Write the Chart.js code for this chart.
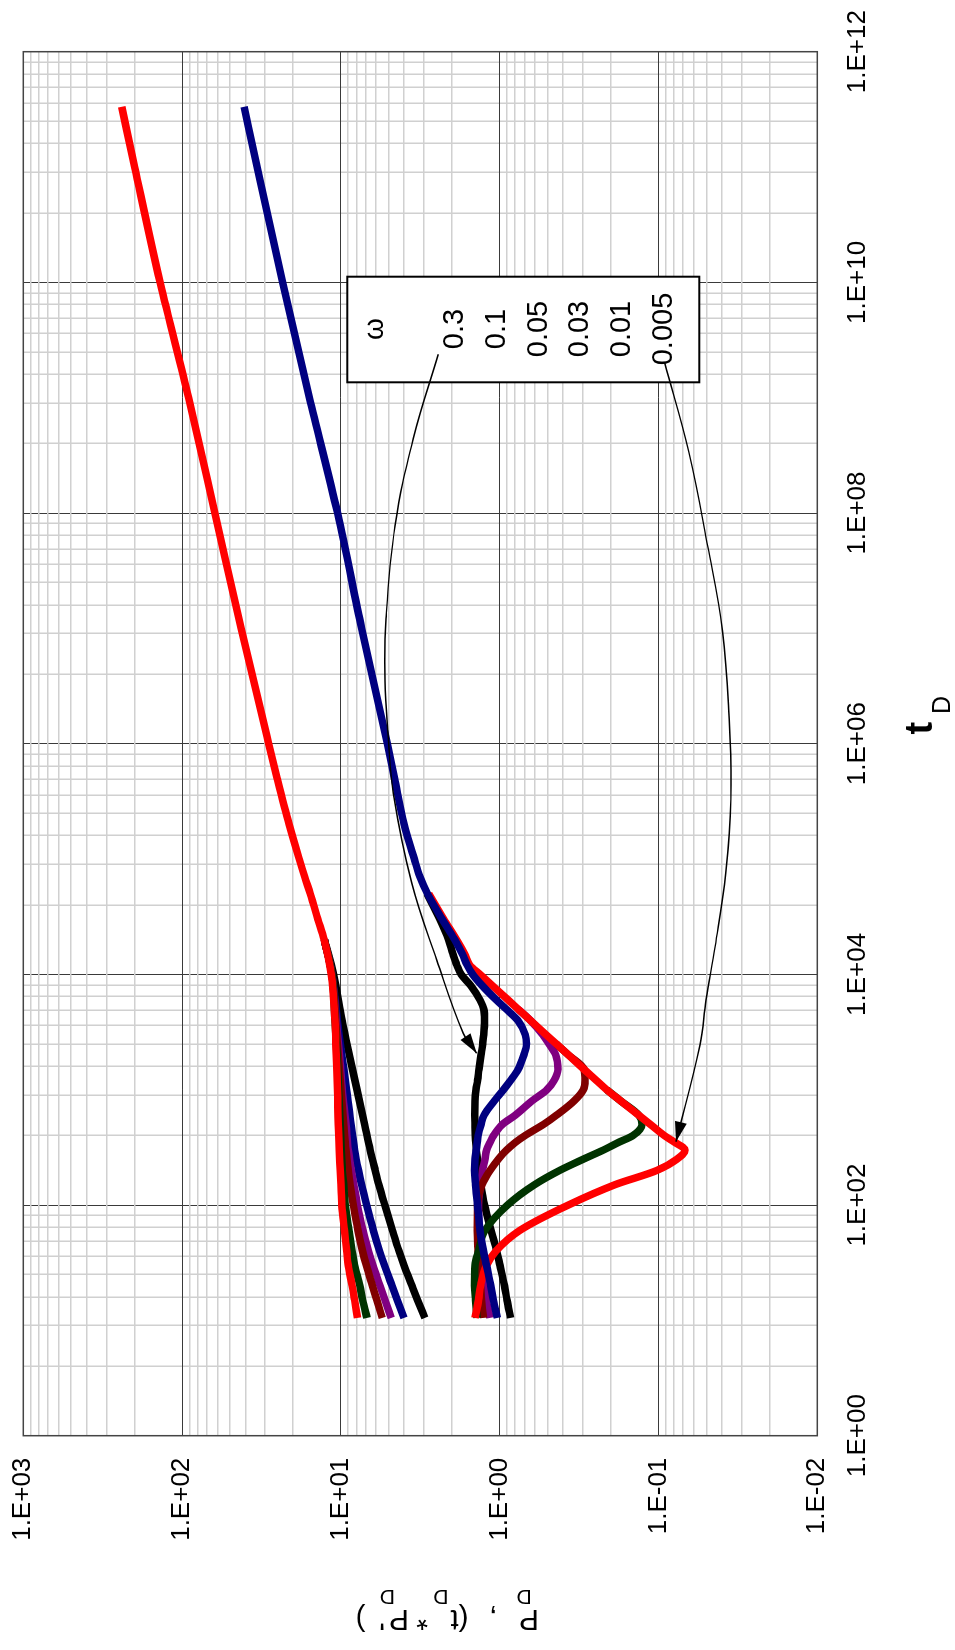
<!DOCTYPE html>
<html><head><meta charset="utf-8">
<script src="https://cdn.jsdelivr.net/npm/chart.js@4/dist/chart.umd.min.js"></script>
<style>
html,body{margin:0;padding:0;background:#fff;overflow:hidden;width:955px;height:1650px}
#wrap{position:absolute;left:0;top:0;width:1650px;height:955px;transform-origin:0 0;transform:translate(0px,1650px) rotate(-90deg);background:#fff}
canvas{display:block}
</style></head><body>
<div id="wrap"><canvas id="c" width="1650" height="955"></canvas></div>
<script>
// ---------------- data ----------------
const omegaLabels = ['0.3', '0.1', '0.05', '0.03', '0.01', '0.005'];
const seriesColors = ['#000000', '#000080', '#800080', '#800000', '#003300', '#ff0000'];

const tTickValues = [1, 1e2, 1e4, 1e6, 1e8, 1e10, 1e12];
const tTickLabels = ['1.E+00', '1.E+02', '1.E+04', '1.E+06', '1.E+08', '1.E+10', '1.E+12'];
const pTickValues = [0.01, 0.1, 1, 10, 100, 1000];
const pTickLabels = ['1.E-02', '1.E-01', '1.E+00', '1.E+01', '1.E+02', '1.E+03'];

// P_D curves
const tUpper = [10.5, 15, 20, 30, 40, 60, 100, 150, 200, 300, 500, 1000, 2000, 4000, 10000, 20000];
const pd_03   = [2.96, 3.29, 3.57, 4.0, 4.31, 4.73, 5.29, 5.76, 6.08, 6.54, 7.09, 7.92, 8.85, 9.84, 11.1, 12.7];
const pd_01   = [4.0, 4.41, 4.77, 5.32, 5.71, 6.24, 6.89, 7.41, 7.75, 8.19, 8.64, 9.2, 9.87, 10.55, 11.35, 12.7];
const pd_005  = [4.82, 5.28, 5.67, 6.28, 6.7, 7.26, 7.87, 8.3, 8.6, 9.0, 9.3, 9.8, 10.2, 10.7, 11.4, 12.7];
const pd_003  = [5.49, 5.94, 6.33, 6.92, 7.31, 7.8, 8.35, 8.76, 9.0, 9.3, 9.6, 10.0, 10.4, 10.8, 11.4, 12.7];
const pd_001  = [6.85, 7.3, 7.6, 8.2, 8.5, 8.9, 9.4, 9.6, 9.8, 9.95, 10.1, 10.35, 10.6, 10.9, 11.4, 12.7];
const pd_0005 = [7.86, 8.2, 8.5, 9.0, 9.2, 9.5, 9.87, 10.0, 10.1, 10.25, 10.4, 10.5, 10.7, 10.9, 11.5, 12.76];
const tUpperLate = [30000, 50000, 70000, 1e5, 2e5, 5e5, 1e6, 1e7, 1e8, 1e9, 1e10, 1e11, 3.33e11];
const pdLate     = [13.95, 15.6, 16.9, 18.3, 21.2, 25.2, 28.5, 42.5, 62.1, 91, 137.7, 199, 240];

// derivative curves tD*P'D
const tDeriv = [10.5, 15, 20, 30, 40, 60, 100, 150, 200, 250, 300, 350, 400, 500, 600, 800, 1000, 1200, 1500, 2000, 2500, 3000, 4000, 5000, 6000, 8000, 10000, 12000, 15000, 20000, 30000, 50000];
const der_03   = [0.855, 0.90, 0.933, 0.996, 1.044, 1.134, 1.247, 1.315, 1.354, 1.38, 1.404, 1.415, 1.425, 1.431, 1.434, 1.43, 1.41, 1.38, 1.35, 1.31, 1.28, 1.26, 1.245, 1.26, 1.33, 1.52, 1.75, 1.86, 1.97, 2.1, 2.38, 2.87];
const der_01   = [1.035, 1.095, 1.138, 1.211, 1.265, 1.33, 1.378, 1.42, 1.441, 1.43, 1.404, 1.385, 1.366, 1.31, 1.255, 1.08, 0.946, 0.855, 0.765, 0.705, 0.678, 0.69, 0.77, 0.91, 1.05, 1.29, 1.48, 1.6, 1.72, 1.92, 2.3, 2.85];
const der_005  = [1.154, 1.21, 1.243, 1.281, 1.319, 1.352, 1.36, 1.32, 1.283, 1.238, 1.21, 1.15, 1.094, 0.962, 0.80, 0.626, 0.504, 0.455, 0.43, 0.444, 0.49, 0.535, 0.642, 0.766, null, null, null, null, null, null, null, null];
const der_003  = [1.265, 1.30, 1.32, 1.354, 1.37, 1.386, 1.38, 1.293, 1.15, 1.018, 0.906, 0.795, 0.693, 0.53, 0.44, 0.34, 0.297, 0.29, 0.294, 0.369, 0.441, null, null, null, null, null, null, null, null, null, null, null];
const der_001  = [1.39, 1.42, 1.44, 1.43, 1.36, 1.24, 0.893, 0.604, 0.418, 0.297, 0.222, 0.178, 0.145, 0.127, 0.133, 0.173, 0.212, null, null, null, null, null, null, null, null, null, null, null, null, null, null, null];
const der_0005 = [1.43, 1.36, 1.32, 1.21, 1.055, 0.75, 0.37, 0.188, 0.102, 0.0765, 0.068, 0.079, 0.0918, 0.1125, 0.133, 0.173, 0.212, 0.2455, 0.294, 0.369, 0.441, 0.511, 0.642, 0.766, 0.885, 1.114, 1.33, 1.54, 1.66, 1.87, 2.25, 2.8];
const tDerivLate = [70000, 1e5, 2e5, 5e5, 1e6, 1e7, 1e8, 1e9, 1e10, 1e11, 3.33e11];
const derLate    = [3.18, 3.45, 4.0, 4.6, 5.1, 7.4, 10.5, 15.8, 23.3, 33.7, 40.7];

// annotation pointers (legend -> curves)
const arrow1T = [2.38e9, 4.42e8, 7.74e7, 1.21e7, 3.52e6, 1.15e6, 3.74e5, 6.2e4, 1.33e4, 3083, 2070];
const arrow1P = [2.436, 3.50, 4.56, 5.20, 5.28, 5.03, 4.68, 3.58, 2.49, 1.696, 1.397];
const arrow2T = [2.0e9, 3.37e8, 5.09e7, 9.48e6, 1.77e6, 3.29e5, 7.57e4, 1.74e4, 6000, 2443, 354];
const arrow2P = [0.0914, 0.0644, 0.0489, 0.0395, 0.036, 0.035, 0.0377, 0.044, 0.0502, 0.0548, 0.0776];

// ---------------- helpers ----------------
const FONT = '"Liberation Sans", Arial, Helvetica, sans-serif';
function pts(ts, vs) { const o = []; for (let i = 0; i < ts.length; i++) if (vs[i] != null) o.push({x: ts[i], y: vs[i]}); return o; }
function curve(data, color) {
  return {data, borderColor: color, backgroundColor: color, borderWidth: 7.5, pointRadius: 0, fill: false,
    cubicInterpolationMode: 'monotone', borderCapStyle: 'butt', borderJoinStyle: 'round'};
}
function arrow(data) {
  return {data, isArrow: true, borderColor: '#000', backgroundColor: '#000', borderWidth: 1.4, pointRadius: 0,
    fill: false, tension: 0.4, borderCapStyle: 'butt'};
}
const C = {};
omegaLabels.forEach((w, i) => C[w] = seriesColors[i]);

// datasets: index 0 drawn on top
const datasets = [
  arrow(pts(arrow1T, arrow1P)),
  arrow(pts(arrow2T, arrow2P)),
  curve(pts(tDeriv.concat(tDerivLate), der_01.concat(derLate)), C['0.1']),
  curve(pts(tDeriv, der_0005), C['0.005']),
  curve(pts(tDeriv, der_001), C['0.01']),
  curve(pts(tDeriv, der_003), C['0.03']),
  curve(pts(tDeriv, der_005), C['0.05']),
  curve(pts(tDeriv, der_03), C['0.3']),
  curve(pts(tUpper.concat(tUpperLate), pd_0005.concat(pdLate)), C['0.005']),
  curve(pts(tUpper, pd_001), C['0.01']),
  curve(pts(tUpper, pd_003), C['0.03']),
  curve(pts(tUpper, pd_005), C['0.05']),
  curve(pts(tUpper, pd_01), C['0.1']),
  curve(pts(tUpper, pd_03), C['0.3'])
];

// grid: t axis uses 2-decade cycles with k^2 sub-lines; P axis standard log sub-lines
function tTicks() {
  const a = [];
  for (let n = 0; n < tTickValues.length - 1; n++)
    for (let k = 1; k <= 9; k++) a.push({value: tTickValues[n] * k * k, major: k === 1});
  a.push({value: tTickValues[tTickValues.length - 1], major: true});
  return a;
}
function pTicks() {
  const a = [];
  for (let n = 0; n < pTickValues.length - 1; n++)
    for (let k = 1; k <= 9; k++) a.push({value: pTickValues[n] * k, major: k === 1});
  a.push({value: pTickValues[pTickValues.length - 1], major: true});
  return a;
}
function labelFrom(values, labels, v) {
  for (let i = 0; i < values.length; i++) if (Math.abs(Math.log10(v) - Math.log10(values[i])) < 1e-6) return labels[i];
  return '';
}
const MAJOR = '#3a3a3a', MINOR = '#d0d0d0';
const gridOpts = {
  drawTicks: false,
  color: c => (c.tick && c.tick.major) ? MAJOR : MINOR,
  lineWidth: c => (c.tick && c.tick.major) ? 1 : 1.5
};
function noPad(s) { s.paddingTop = 0; s.paddingBottom = 0; s.paddingLeft = 0; s.paddingRight = 0; }

// legend box (canvas px, pre-rotation frame)
const LEG = {x: 1267.7, y: 347.3, w: 105.6, h: 352, cx: 1321};

const decor = {
  id: 'decor',
  beforeDatasetsDraw(chart) {
    const {ctx, chartArea: a} = chart;
    ctx.save();
    ctx.strokeStyle = '#444'; ctx.lineWidth = 1.5;
    ctx.strokeRect(a.left, a.top, a.right - a.left, a.bottom - a.top);
    ctx.fillStyle = '#fff'; ctx.fillRect(LEG.x, LEG.y, LEG.w, LEG.h);
    ctx.strokeStyle = '#000'; ctx.lineWidth = 2; ctx.strokeRect(LEG.x, LEG.y, LEG.w, LEG.h);
    ctx.fillStyle = '#000'; ctx.textAlign = 'center'; ctx.textBaseline = 'alphabetic';
    ctx.font = '28px ' + FONT; ctx.fillText('\u03C9', LEG.cx, 383);
    ctx.font = '29px ' + FONT;
    omegaLabels.forEach((s, i) => ctx.fillText(s, LEG.cx, 463.1 + i * 41.7));
    ctx.restore();
  },
  afterDatasetsDraw(chart) {
    const ctx = chart.ctx;
    chart.data.datasets.forEach((ds, i) => {
      if (!ds.isArrow) return;
      const pts = chart.getDatasetMeta(i).data;
      const p = pts[pts.length - 1], q = pts[pts.length - 2];
      let bx = (p.cp1x != null) ? p.cp1x : q.x, by = (p.cp1y != null) ? p.cp1y : q.y;
      let dx = p.x - bx, dy = p.y - by, L = Math.hypot(dx, dy);
      if (L < 1) { dx = p.x - q.x; dy = p.y - q.y; L = Math.hypot(dx, dy); }
      const ux = dx / L, uy = dy / L, len = 20, hw = 6;
      ctx.save(); ctx.fillStyle = '#000';
      ctx.beginPath();
      ctx.moveTo(p.x, p.y);
      ctx.lineTo(p.x - ux * len - uy * hw, p.y - uy * len + ux * hw);
      ctx.lineTo(p.x - ux * len + uy * hw, p.y - uy * len - ux * hw);
      ctx.closePath(); ctx.fill(); ctx.restore();
    });
  },
  afterDraw(chart) {
    const ctx = chart.ctx;
    ctx.save(); ctx.fillStyle = '#000'; ctx.textAlign = 'left'; ctx.textBaseline = 'alphabetic';
    // x title: t_D
    ctx.font = 'bold 38px ' + FONT; ctx.fillText('t', 915.5, 931.7);
    ctx.font = '25px ' + FONT; ctx.fillText('D', 936, 950);
    // y title: P_D , (t_D * P'_D)  (rotated)
    ctx.translate(40, 539); ctx.rotate(-Math.PI / 2);
    const parts = [['P', 0, 0], ['D', 7.3, 1], [',', 41.4, 0], ['(', 70.5, 0], ['t', 80.2, 0], ['D', 90.6, 1],
      ['*', 111, 0], ['P', 130, 0], ["'", 153.9, 0], ['D', 144, 1], [')', 173.4, 0]];
    parts.forEach(([s, off, sub]) => {
      ctx.font = (sub ? '21px ' : '30px ') + FONT;
      ctx.fillText(s, off, sub ? 20 : 0);
    });
    ctx.restore();
  }
};

new Chart(document.getElementById('c'), {
  type: 'line',
  data: {datasets},
  plugins: [decor],
  options: {
    responsive: false, animation: false, devicePixelRatio: 1,
    layout: {autoPadding: false, padding: {left: 0, top: 23.3, right: 51.7, bottom: 0}},
    plugins: {legend: {display: false}, tooltip: {enabled: false}, title: {display: false}},
    scales: {
      x: {
        type: 'logarithmic', position: 'bottom', min: 1, max: 1e12,
        afterBuildTicks: s => { s.ticks = tTicks(); },
        afterFit: s => { s.height = 137.7; noPad(s); },
        grid: gridOpts, border: {display: false},
        ticks: {autoSkip: false, maxRotation: 0, minRotation: 0, padding: 25, color: '#000',
          font: {family: FONT, size: 26},
          callback: (v, i, t) => (t[i] && t[i].major) ? labelFrom(tTickValues, tTickLabels, v) : ''}
      },
      y: {
        type: 'logarithmic', position: 'left', min: 0.01, max: 1000,
        afterBuildTicks: s => { s.ticks = pTicks(); },
        afterFit: s => { s.width = 214.3; noPad(s); },
        grid: gridOpts, border: {display: false},
        ticks: {autoSkip: false, padding: 22, color: '#000', font: {family: FONT, size: 26},
          callback: (v, i, t) => (t[i] && t[i].major) ? labelFrom(pTickValues, pTickLabels, v) : ''}
      }
    }
  }
});
</script>
</body></html>
